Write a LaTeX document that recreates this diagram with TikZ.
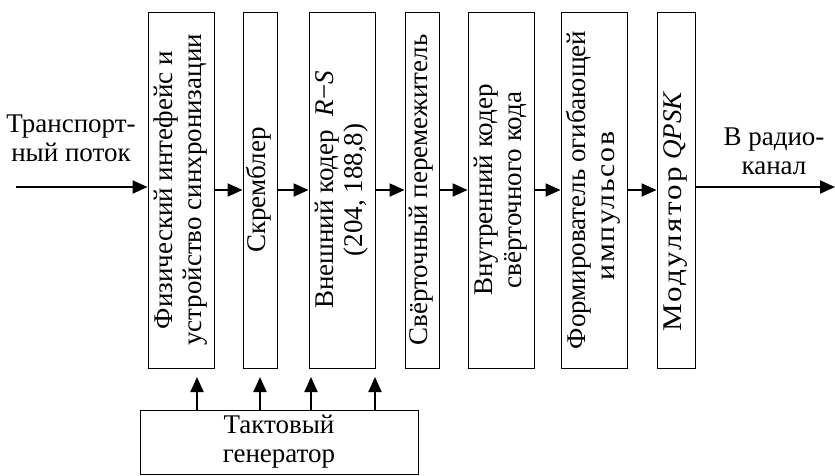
\documentclass[tikz,border=0pt]{standalone}
\usepackage{fontspec}
\setmainfont{Liberation Serif}
\usepackage{graphicx}
\usetikzlibrary{arrows.meta, positioning, calc}

\newcommand{\vtext}[1]{\rotatebox{90}{\begin{tabular}{@{}c@{}}#1\end{tabular}}}
\newcommand{\stretchword}[3]{\scalebox{#1}[1]{\addfontfeature{LetterSpace=#2}#3}}

\begin{document}
\begin{tikzpicture}[x=1pt, y=-1pt,
	font=\fontsize{27}{29}\selectfont,
	block/.style={draw, line width=0.9pt, inner sep=0pt, minimum height=356pt},
	arr/.style={line width=2pt, -{Triangle[length=15pt,width=13pt]}}]
	\useasboundingbox (0,0) rectangle (835,475);
	\node[block, minimum width=66pt] (fiz) at (181,190) {\vtext{Физический интефейс и\\устройство синхронизации}};
	\node[block, minimum width=34pt] (scr) at (260,190) {\vtext{Скремблер}};
	\node[block, minimum width=66pt] (rs) at (342,190) {\vtext{Внешний кодер\ \ \textit{R}−\textit{S}\\(204, 188,8)}};
	\node[block, minimum width=34pt] (ilv) at (422,190) {\vtext{Свёрточный перемежитель}};
	\node[block, minimum width=66pt] (conv) at (501,190) {\vtext{Внутренний кодер\\свёрточного кода}};
	\node[block, minimum width=66pt] (form) at (594,190) {\vtext{Формирователь огибающей\\\stretchword{1.1}{6}{импульсов}\hspace{32pt}\mbox{}}};
	\node[block, minimum width=38pt] (mod) at (676,190) {\vtext{\stretchword{1.15}{8}{Модулятор} \textit{QPSK}\hspace{43pt}\mbox{}}};
	\node[draw, line width=0.9pt, minimum width=278pt, minimum height=64pt, align=center] (gen) at (279,442) {Тактовый\\генератор};
	\node[align=center] (src) at (71,138) {Транспорт-\\ный поток};
	\node[align=center] (dst) at (774,151) {В радио-\\канал};
	\coordinate (in) at (16,187);
	\coordinate (out) at (835,187);
	\draw[arr] (in) -- (in -| fiz.west);
	\foreach \a/\b in {fiz/scr, scr/rs, rs/ilv, ilv/conv, conv/form, form/mod}
		\draw[arr] (\a.east) -- (\b.west);
	\draw[arr] (out -| mod.east) -- (out);
	\foreach \x in {197,260,311,375}
		\draw[arr] (\x,0 |- gen.north) -- (\x,377);
\end{tikzpicture}
\end{document}
